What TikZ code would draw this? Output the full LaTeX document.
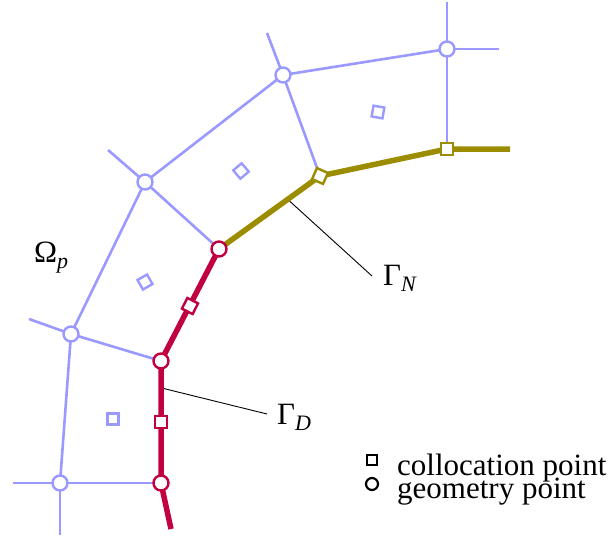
\documentclass[tikz,border=0pt]{standalone}
\usepackage{fontspec}
\setmainfont{Liberation Serif}
\definecolor{meshblue}{RGB}{153,153,255}
\definecolor{dred}{RGB}{192,0,64}
\definecolor{nolive}{RGB}{155,140,0}
\tikzset{
  mesh/.style={draw=meshblue,line width=2.6pt},
  dline/.style={draw=dred,line width=5.5pt},
  nline/.style={draw=nolive,line width=5.5pt},
  geo/.style={circle,draw=#1,fill=white,line width=2.4pt,minimum size=15pt,inner sep=0pt},
  col/.style={rectangle,draw=#1,fill=white,line width=2.4pt,minimum size=12pt,inner sep=0pt},
  ctr/.style={rectangle,draw=meshblue,fill=white,line width=2.4pt,minimum size=11pt,inner sep=0pt},
  leader/.style={draw=black,line width=0.9pt},
  lbl/.style={inner sep=0pt,font=\fontsize{31}{31}\selectfont},
}
\newcommand{\mysub}[1]{\raisebox{-0.22em}{\fontsize{22}{22}\selectfont\itshape #1}}
\begin{document}
\begin{tikzpicture}[x=1pt,y=-1pt]
\useasboundingbox (0,0) rectangle (616,541);
% free ends
\coordinate (t1) at (447,2);
\coordinate (t2) at (499,49);
\coordinate (t3) at (267,33);
\coordinate (t4) at (108,150);
\coordinate (t5) at (29,319);
\coordinate (t6) at (13,483);
\coordinate (t7) at (60,535);
\coordinate (t8) at (171,529);
\coordinate (t9) at (510,149);
% geometry points
\coordinate (gA) at (283,75);
\coordinate (gB) at (447,49);
\coordinate (gC) at (145,182);
\coordinate (gD) at (71,334);
\coordinate (gE) at (60,483);
\coordinate (r1) at (219,249);
\coordinate (r2) at (161,361);
\coordinate (r3) at (161,483);
\coordinate (n1) at (320,176);
\coordinate (n2) at (447,149);
% mesh lines
\draw[mesh] (t1) -- (gB) -- (t2);
\draw[mesh] (gB) -- (n2);
\draw[mesh] (gA) -- (gB);
\draw[mesh] (t3) -- (gA) -- (n1);
\draw[mesh] (gA) -- (gC);
\draw[mesh] (t4) -- (gC) -- (r1);
\draw[mesh] (gC) -- (gD);
\draw[mesh] (t5) -- (gD) -- (r2);
\draw[mesh] (gD) -- (gE);
\draw[mesh] (t6) -- (gE) -- (r3);
\draw[mesh] (gE) -- (t7);
% leaders
\path (r1) -- (n1) coordinate[pos=0.68] (lnA);
\coordinate (lnB) at (372,276);
\path (r2) -- (r3) coordinate[pos=0.22] (ldA);
\coordinate (ldB) at (267,414);
\draw[leader] (lnA) -- (lnB);
\draw[leader] (ldA) -- (ldB);
% boundaries
\draw[nline] (r1) -- (n1) -- (n2) -- (t9);
\draw[dline] (r1) -- (r2) -- (r3) -- (t8);
% cell centres
\node[ctr,rotate=-10] (c1) at (378,112) {};
\node[ctr,rotate=40] (c2) at (241,171) {};
\node[ctr,rotate=30] (c3) at (145,282) {};
\node[ctr] (c4) at (113,419) {};
% collocation points on boundary
\node[col=nolive,rotate=-24] (N1) at (n1) {};
\node[col=nolive] (N2) at (n2) {};
\node[col=dred,rotate=-27] (D1) at (190,306) {};
\node[col=dred] (D2) at (161,422) {};
% geometry markers
\node[geo=meshblue] (GA) at (gA) {};
\node[geo=meshblue] (GB) at (gB) {};
\node[geo=meshblue] (GC) at (gC) {};
\node[geo=meshblue] (GD) at (gD) {};
\node[geo=meshblue] (GE) at (gE) {};
\node[geo=dred] (R1) at (r1) {};
\node[geo=dred] (R2) at (r2) {};
\node[geo=dred] (R3) at (r3) {};
% labels
\node[lbl,anchor=base west] (omega) at (34,262) {Ω\mysub{p}};
\node[lbl,anchor=base west] (gN) at (383,285) {Γ\mysub{N}};
\node[lbl,anchor=base west] (gDl) at (277,424) {Γ\mysub{D}};
% legend
\node[rectangle,draw=black,line width=2.2pt,minimum size=10pt,inner sep=0pt] (lsq) at (372,460) {};
\node[circle,draw=black,line width=2.2pt,minimum size=12pt,inner sep=0pt] (lci) at (372,484) {};
\node[lbl,anchor=base west] (lt1) at (397,475) {collocation point};
\node[lbl,anchor=base west] (lt2) at (397,498) {geometry point};
\end{tikzpicture}
\end{document}
